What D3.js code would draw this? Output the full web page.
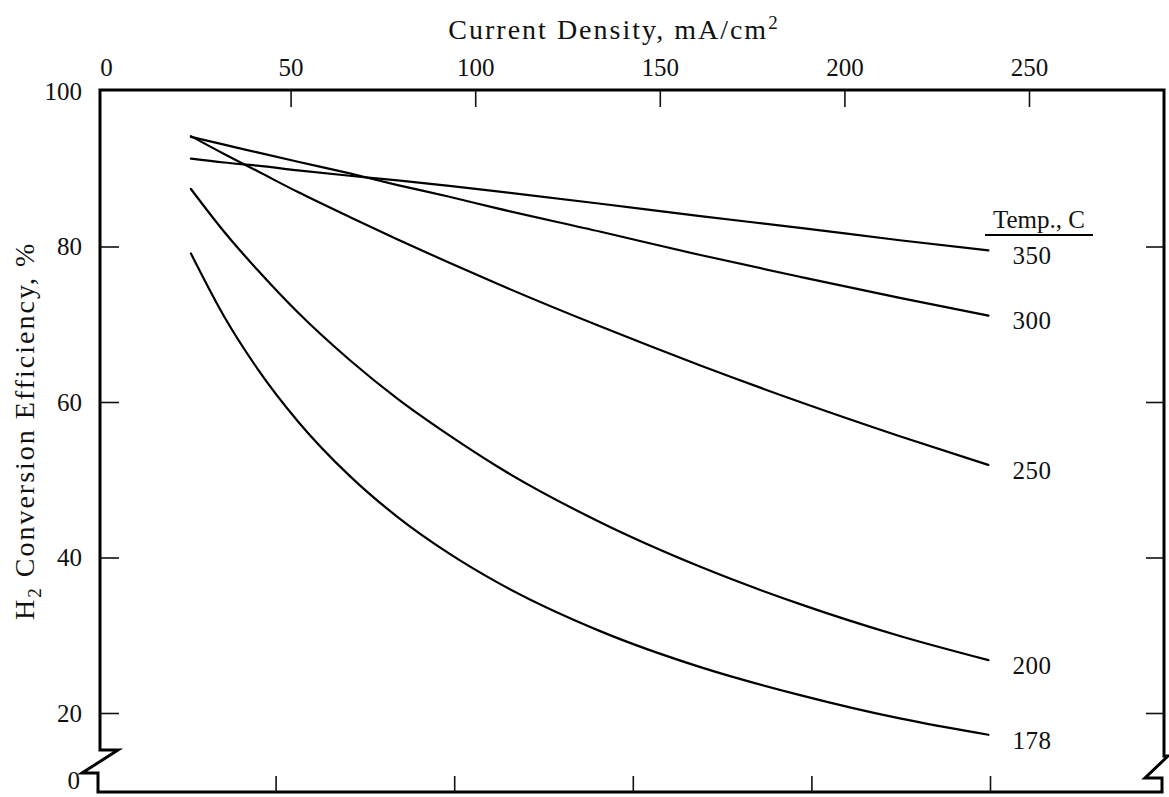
<!DOCTYPE html>
<html>
<head>
<meta charset="utf-8">
<script src="https://cdn.jsdelivr.net/npm/d3@7"></script>
<style>
  html, body { margin: 0; padding: 0; background: #fff; }
  svg { display: block; }
  text { font-family: "Liberation Serif", "Times New Roman", serif; fill: #111; }
</style>
</head>
<body>
<svg id="chart" width="1169" height="797"></svg>
<script>
// Current density grid (mA/cm²) shared by all curves
const density = [23, 32, 41, 52, 66, 79, 93, 106, 134, 161, 188, 215, 239];

// H2 conversion efficiency (%) per cell temperature
const eff350 = [91.3, 90.8, 90.4, 89.8, 89.1, 88.5, 87.8, 87.1, 85.5, 83.9, 82.4, 80.8, 79.5];
const eff300 = [94.1, 93.1, 92.1, 90.9, 89.4, 87.9, 86.4, 84.9, 81.9, 78.9, 76.1, 73.4, 71.1];
const eff250 = [94.2, 91.9, 89.7, 87.0, 83.8, 80.9, 77.9, 75.2, 69.7, 64.7, 60.0, 55.6, 51.9];
const eff200 = [87.4, 81.9, 77.0, 71.5, 65.4, 60.4, 55.7, 51.7, 44.5, 38.8, 34.0, 29.9, 26.8];
const eff178 = [79.1, 71.0, 64.3, 57.5, 50.5, 45.2, 40.5, 36.8, 30.5, 25.9, 22.3, 19.3, 17.2];

const temps = ["350", "300", "250", "200", "178"];
const effSeries = [eff350, eff300, eff250, eff200, eff178];

// Axis ticks
const xTickLabels = [0, 50, 100, 150, 200, 250];
const xTickMarks = [50, 100, 150, 200, 250];
const yTickLabels = [20, 40, 60, 80, 100];
const yTickMarks = [20, 40, 60, 80];

const xTitle = "Current Density, mA/cm";
const yTitleParts = ["H", "2", " Conversion Efficiency, %"];
const legendTitle = "Temp., C";

// Frame geometry
const L = 100, R = 1164, T = 90, B = 792;

const svg = d3.select("#chart");

const x = d3.scaleLinear().domain([0, 250]).range([106, 1029]);
const xLower = d3.scaleLinear().domain([0, 250]).range([97, 990]);
const y = d3.scaleLinear().domain([20, 100]).range([713, 91]);

const FS = 25;

// Frame with broken-axis marks near the bottom of both vertical sides
svg.append("path")
  .attr("d", `M${L},${T} H${R} V756 H1168 L1145,778 H1162 V${B} H98 V773 H82 L118,750 H${L} Z`)
  .attr("fill", "none")
  .attr("stroke", "#000")
  .attr("stroke-width", 3)
  .attr("stroke-linejoin", "miter");

function styleAxis(g, showText) {
  g.select(".domain").remove();
  g.selectAll(".tick line").attr("stroke", "#111").attr("stroke-width", 1.6);
  g.selectAll(".tick text")
    .attr("font-family", '"Liberation Serif", "Times New Roman", serif')
    .attr("font-size", FS)
    .attr("fill", "#111")
    .style("display", showText ? null : "none");
}

// Top tick marks (inward)
svg.append("g").attr("transform", `translate(0,${T})`)
  .call(d3.axisTop(x).tickValues(xTickMarks).tickSize(-17).tickFormat(""))
  .call(g => styleAxis(g, false));

// Top tick labels
svg.append("g").attr("transform", `translate(0,76)`)
  .call(d3.axisTop(x).tickValues(xTickLabels).tickSize(0).tickPadding(0).tickFormat(d3.format("d")))
  .call(g => styleAxis(g, true));

// Bottom tick marks (inward)
svg.append("g").attr("transform", `translate(0,${B})`)
  .call(d3.axisBottom(xLower).tickValues(xTickMarks).tickSize(-16).tickFormat(""))
  .call(g => styleAxis(g, false));

// Left tick marks and labels
svg.append("g").attr("transform", `translate(${L},0)`)
  .call(d3.axisLeft(y).tickValues(yTickMarks).tickSize(-19).tickFormat(""))
  .call(g => styleAxis(g, false));
svg.append("g").attr("transform", `translate(${L - 18},0)`)
  .call(d3.axisLeft(y).tickValues(yTickLabels).tickSize(0).tickPadding(0).tickFormat(d3.format("d")))
  .call(g => styleAxis(g, true));

// Zero label at the broken baseline
svg.append("text")
  .attr("x", L - 20).attr("y", 789)
  .attr("text-anchor", "end").attr("font-size", FS)
  .text("0");

// Right tick marks (inward)
svg.append("g").attr("transform", `translate(${R},0)`)
  .call(d3.axisRight(y).tickValues(yTickMarks).tickSize(-18).tickFormat(""))
  .call(g => styleAxis(g, false));

// X axis title with superscript
const xt = svg.append("text")
  .attr("x", 614).attr("y", 39)
  .attr("text-anchor", "middle")
  .attr("font-size", 28)
  .attr("letter-spacing", 2);
xt.append("tspan").text(xTitle);
xt.append("tspan").attr("font-size", 19).attr("dy", -10).text("2");

// Y axis title with subscript
const yt = svg.append("text")
  .attr("transform", "translate(34,620) rotate(-90)")
  .attr("text-anchor", "start")
  .attr("font-size", 28)
  .attr("letter-spacing", 2);
yt.append("tspan").text(yTitleParts[0]);
yt.append("tspan").attr("font-size", 19).attr("dy", 7).text(yTitleParts[1]);
yt.append("tspan").attr("dy", -7).text(yTitleParts[2]);

// Efficiency curves
const line = d3.line()
  .x(d => x(d[0]))
  .y(d => y(d[1]))
  .curve(d3.curveMonotoneX);

effSeries.forEach((vals, i) => {
  const pts = density.map((d, j) => [d, vals[j]]);
  svg.append("path")
    .datum(pts)
    .attr("d", line)
    .attr("fill", "none")
    .attr("stroke", "#000")
    .attr("stroke-width", 2.2)
    .attr("stroke-linecap", "round");
  const last = pts[pts.length - 1];
  svg.append("text")
    .attr("x", x(last[0]) + 24)
    .attr("y", y(last[1]) + 5)
    .attr("dy", "0.35em")
    .attr("font-size", FS)
    .attr("letter-spacing", 0.5)
    .text(temps[i]);
});

// Temperature key heading
svg.append("text")
  .attr("x", 1039).attr("y", 228)
  .attr("text-anchor", "middle")
  .attr("font-size", FS)
  .text(legendTitle);
svg.append("line")
  .attr("x1", 985).attr("x2", 1093)
  .attr("y1", 235).attr("y2", 235)
  .attr("stroke", "#000").attr("stroke-width", 2);
</script>
</body>
</html>
